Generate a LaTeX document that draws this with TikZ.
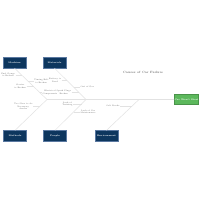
\documentclass[tikz,border=0pt]{standalone}
\usepackage{xcolor}
\definecolor{navy}{RGB}{13,54,94}
\definecolor{navyedge}{RGB}{90,120,160}
\definecolor{effgreen}{RGB}{92,184,92}
\definecolor{bonegray}{RGB}{226,226,226}
\definecolor{txtgray}{RGB}{105,105,105}
\tikzset{
  catbox/.style={draw=navyedge, line width=0.3pt, fill=navy, text=white, minimum width=23pt, minimum height=11pt, inner sep=0pt, font=\fontsize{2.2}{3}\selectfont\bfseries},
  effbox/.style={draw=effgreen!80!black, line width=0.3pt, fill=effgreen, text=white, minimum width=23pt, minimum height=10pt, inner sep=0pt, font=\fontsize{2.2}{3}\selectfont\bfseries},
  bone/.style={draw=bonegray, line width=0.5pt},
  twig/.style={draw=bonegray, line width=0.4pt},
  cause/.style={text=txtgray, inner sep=0.4pt, align=center, font=\fontsize{2}{2.5}\selectfont},
  titletxt/.style={text=txtgray!70!black, inner sep=0pt, font=\fontsize{3.1}{4}\selectfont}
}
\begin{document}
\begin{tikzpicture}[x=1pt,y=-1pt]
\useasboundingbox[fill=white] (0,0) rectangle (200,200);
% effect and spine
\node[effbox] (eff) at (186.5,99.5) {Car Won't Start};
\coordinate (s0) at (47,99.5);
\draw[bone] (s0) -- (eff.west);
% category boxes
\node[catbox] (mach) at (14.5,62.5) {Machine};
\node[catbox] (mat) at (54.5,62.5) {Materials};
\node[catbox] (meth) at (15,136) {Methods};
\node[catbox] (peop) at (55,136) {People};
\node[catbox] (env) at (106.5,136) {Environment};
% bone ends on spine
\coordinate (b1) at (47,99.5);
\coordinate (b2) at (86,99.5);
\coordinate (b5) at (139,99.5);
\draw[bone] (mach.south) -- (b1);
\draw[bone] (mat.south) -- (b2);
\draw[bone] (meth.north) -- (b1);
\draw[bone] (peop.north) -- (b2);
\draw[bone] (env.north) -- (b5);
% title
\node[titletxt] (title) at (143,72) {Causes of Car Failure};
% Machine bone causes
\node[cause, anchor=east] (c1) at (15.5,75) {Fuel Gauge\\is Broken};
\coordinate (c1e) at (21.7,75);
\draw[twig] (c1.east) -- (c1e);
\node[cause, anchor=east] (c2) at (26.5,86.5) {Starter\\is Broken};
\coordinate (c2e) at (33.6,86.5);
\draw[twig] (c2.east) -- (c2e);
\node[cause, anchor=west] (c3) at (33.5,81.5) {Timing Belt\\is Broken};
\coordinate (c3s) at (28.4,81.5);
\draw[twig] (c3s) -- (c3.west);
\node[cause, anchor=west] (c6) at (42,92.5) {Electrical\\Components};
\coordinate (c6s) at (39.8,92.5);
\draw[twig] (c6s) -- (c6.west);
% Materials bone causes
\node[cause, anchor=east] (c4) at (61.5,80.5) {Battery is\\Dead};
\coordinate (c4e) at (67,80.5);
\draw[twig] (c4.east) -- (c4e);
\node[cause, anchor=east] (c7) at (71.5,92.5) {Spark Plugs\\Broken};
\coordinate (c7e) at (79,92.5);
\draw[twig] (c7.east) -- (c7e);
\node[cause, anchor=west] (c5) at (80,87) {Out of Gas};
\coordinate (c5s) at (73.5,87);
\draw[twig] (c5s) -- (c5.west);
% Methods bone cause
\node[cause, anchor=east] (c8) at (33,106.5) {Too Slow to do\\Necessary\\checks};
\coordinate (c8e) at (39.8,106.5);
\draw[twig] (c8.east) -- (c8e);
% People bone causes
\node[cause, anchor=east] (c9) at (73,104) {Lack of\\Training};
\coordinate (c9e) at (81.5,104);
\draw[twig] (c9.east) -- (c9e);
\node[cause, anchor=west] (c10) at (80,112) {Lack of Car\\Maintenance};
\coordinate (c10s) at (73.5,112);
\draw[twig] (c10s) -- (c10.west);
% Environment bone cause
\node[cause, anchor=east] (c11) at (120,106) {Salt Roads};
\coordinate (c11e) at (132.2,106);
\draw[twig] (c11.east) -- (c11e);
\end{tikzpicture}
\end{document}
